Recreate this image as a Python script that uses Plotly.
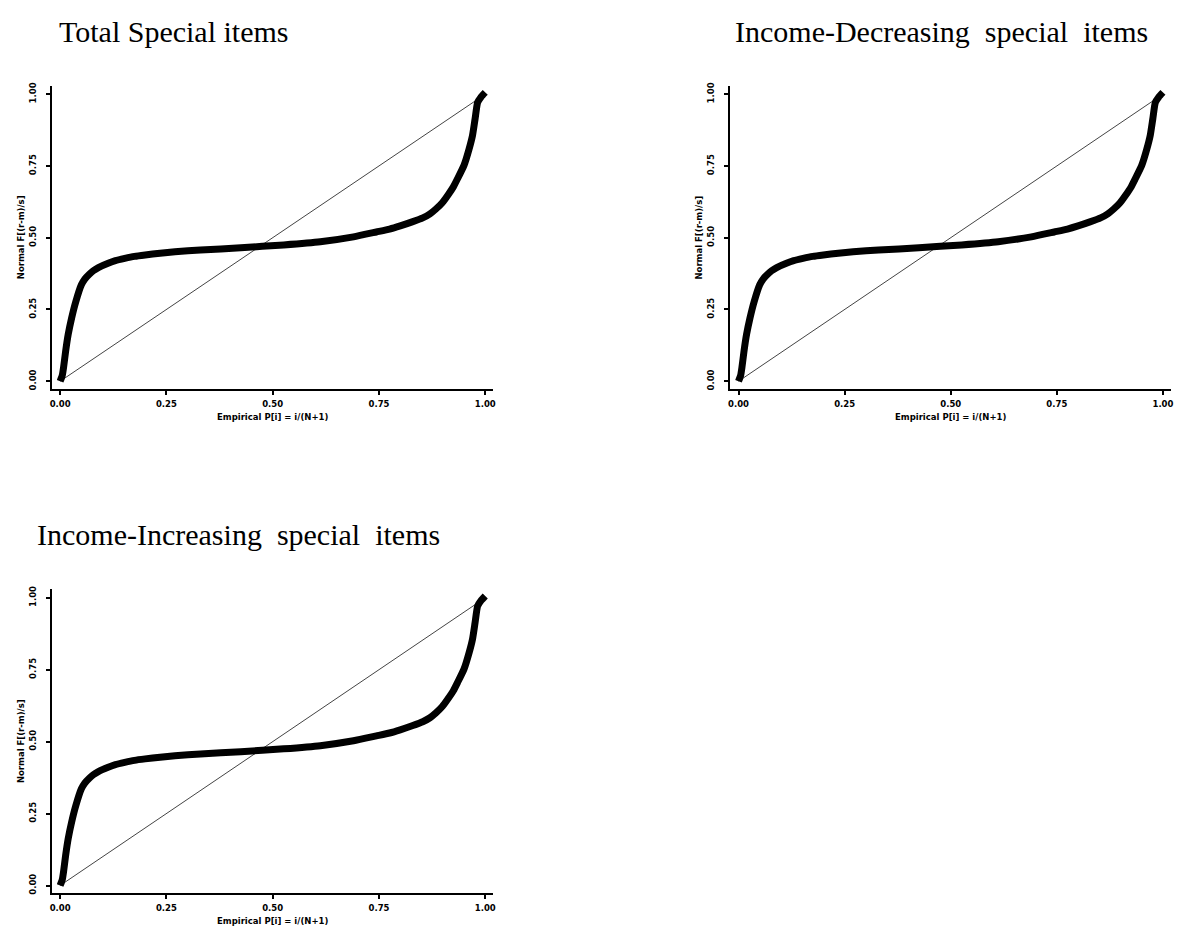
import plotly.graph_objects as go

W, H = 1179, 930

# ---- data (the three panels show the same shape) ----
emp_p = [0.0, 0.005, 0.008, 0.013, 0.019, 0.027, 0.037, 0.050, 0.058, 0.068, 0.078,
         0.090, 0.113, 0.130, 0.152, 0.175, 0.200, 0.235, 0.270, 0.330, 0.425, 0.526,
         0.612, 0.690, 0.744, 0.775, 0.800, 0.828, 0.853, 0.870, 0.884, 0.899, 0.912,
         0.925, 0.935, 0.950, 0.962, 0.970, 0.976, 0.982, 0.990, 1.0]
norm_f = [0.0, 0.020, 0.047, 0.105, 0.163, 0.220, 0.278, 0.336, 0.356, 0.372, 0.385,
          0.396, 0.411, 0.420, 0.428, 0.435, 0.440, 0.446, 0.451, 0.457, 0.465, 0.475,
          0.486, 0.503, 0.520, 0.530, 0.541, 0.555, 0.569, 0.583, 0.600, 0.622, 0.648,
          0.677, 0.706, 0.752, 0.809, 0.856, 0.913, 0.971, 0.990, 1.006]

total_x, total_y = emp_p, norm_f
decr_x, decr_y = emp_p, norm_f
incr_x, incr_y = emp_p, norm_f

ref_line = [0.0, 1.0]

tick_vals = [0.0, 0.25, 0.5, 0.75, 1.0]
tick_text = ["0.00", "0.25", "0.50", "0.75", "1.00"]

titles = ["Total Special items", "Income-Decreasing  special  items",
          "Income-Increasing  special  items"]
x_title = "Empirical P[i] = i/(N+1)"
y_title = "Normal F[(r-m)/s]"

# ---- geometry (pixels) ----
panels = [
    dict(x0=50, x1=493, y0=83, y1=388, title_x=55, title_y=29),
    dict(x0=730.7, x1=1173, y0=83, y1=388, title_x=733, title_y=29),
    dict(x0=50, x1=493, y0=589.3, y1=895, title_x=33, title_y=534),
]
series = [(total_x, total_y), (decr_x, decr_y), (incr_x, incr_y)]

fig = go.Figure()
tick_font = dict(family="DejaVu Sans", size=8.5, color="black", weight="bold")
lab_font = dict(family="DejaVu Sans", size=8.5, color="black", weight="bold")

for i, (p, (xs, ys)) in enumerate(zip(panels, series)):
    k = "" if i == 0 else str(i + 1)
    fig.add_trace(go.Scatter(x=ref_line, y=ref_line, mode="lines",
                             line=dict(color="#444444", width=1),
                             xaxis="x" + k, yaxis="y" + k, showlegend=False))
    fig.add_trace(go.Scatter(x=xs, y=ys, mode="lines",
                             line=dict(color="black", width=7, shape="spline", smoothing=0.5),
                             xaxis="x" + k, yaxis="y" + k, showlegend=False))
    ax = dict(domain=[p["x0"] / W, p["x1"] / W], anchor="y" + k,
              range=[-0.0195, 1.019], showgrid=False, zeroline=False,
              showline=True, linecolor="black", linewidth=1.5,
              ticks="outside", ticklen=4, tickwidth=1.5, tickcolor="black",
              tickvals=tick_vals, ticktext=tick_text, tickfont=tick_font,
              ticklabelstandoff=2)
    ay = dict(domain=[1 - p["y1"] / H, 1 - p["y0"] / H], anchor="x" + k,
              range=[-0.0267, 1.030], showgrid=False, zeroline=False,
              showline=True, linecolor="black", linewidth=1.5,
              ticks="outside", ticklen=4, tickwidth=1.5, tickcolor="black",
              tickvals=tick_vals, ticktext=tick_text, tickfont=tick_font,
              tickangle=-90, ticklabelstandoff=7)
    fig.update_layout(**{"xaxis" + k: ax, "yaxis" + k: ay})

    cx = (p["x0"] + p["x1"]) / 2
    cy = (p["y0"] + p["y1"]) / 2
    fig.add_annotation(text=titles[i], xref="paper", yref="paper",
                       x=p["title_x"] / W, y=1 - p["title_y"] / H,
                       xanchor="left", yanchor="middle", showarrow=False,
                       font=dict(family="Liberation Serif, Times New Roman", size=30, color="black"))
    fig.add_annotation(text=x_title, xref="paper", yref="paper",
                       x=cx / W, y=1 - (p["y1"] + 28) / H,
                       xanchor="center", yanchor="middle", showarrow=False,
                       font=lab_font)
    fig.add_annotation(text=y_title, xref="paper", yref="paper",
                       x=(p["x0"] - 31) / W, y=1 - cy / H, textangle=-90,
                       xanchor="center", yanchor="middle", showarrow=False,
                       font=lab_font)

fig.update_layout(width=W, height=H, margin=dict(l=0, r=0, t=0, b=0),
                  paper_bgcolor="white", plot_bgcolor="white")

fig.write_html("out.html")
